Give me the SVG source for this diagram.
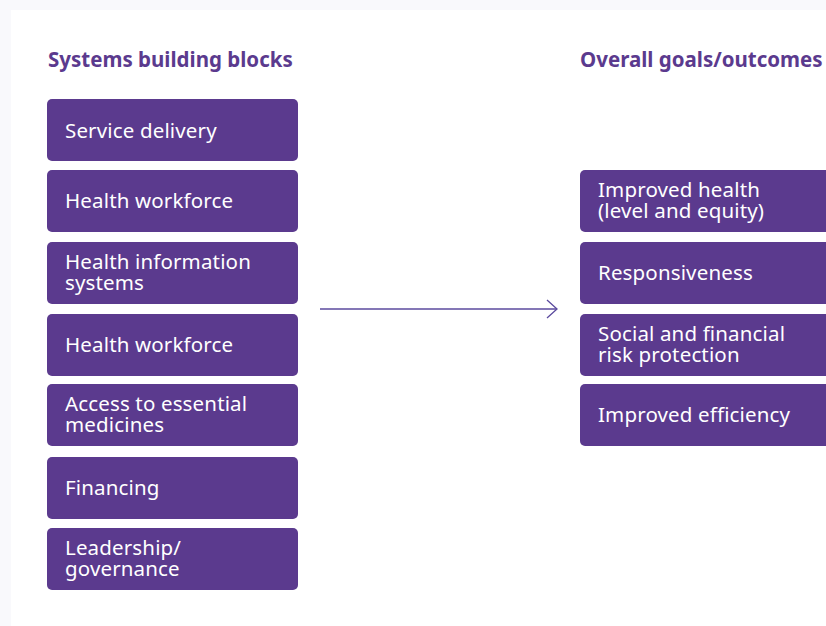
<svg xmlns="http://www.w3.org/2000/svg" width="826" height="626" viewBox="0 0 826 626">
<style>
.box{fill:#5b3a8e;}
.t{font-family:"Noto Sans","Lato",sans-serif;font-size:20.5px;letter-spacing:0.15px;fill:#ffffff;}
.h{font-family:"Noto Sans","Lato",sans-serif;font-size:20.5px;font-weight:bold;fill:#5b3a8e;}
.c{stroke:#5b4a9e;stroke-width:1.3;fill:none;}
</style>
<defs>
<marker id="arr" viewBox="0 0 12 20" refX="11" refY="10" markerWidth="12" markerHeight="20" markerUnits="userSpaceOnUse" orient="auto">
<path d="M1,1 L11,10 L1,19" fill="none" stroke="#5b4a9e" stroke-width="1.3"/>
</marker>
</defs>
<rect width="826" height="626" fill="#f9f9fc"/>
<rect x="11" y="10" width="815" height="616" fill="#ffffff"/>
<text class="h" x="48" y="67">Systems building blocks</text>
<text class="h" x="580" y="67">Overall goals/outcomes</text>
<g id="l1"><rect class="box" x="47" y="99" width="251" height="62" rx="5"/><text class="t" x="65" y="138">Service delivery</text></g>
<g id="l2"><rect class="box" x="47" y="170" width="251" height="62" rx="5"/><text class="t" x="65" y="208">Health workforce</text></g>
<g id="l3"><rect class="box" x="47" y="242" width="251" height="62" rx="5"/><text class="t" x="65" y="269">Health information</text><text class="t" x="65" y="290">systems</text></g>
<g id="l4"><rect class="box" x="47" y="314" width="251" height="62" rx="5"/><text class="t" x="65" y="352">Health workforce</text></g>
<g id="l5"><rect class="box" x="47" y="384" width="251" height="62" rx="5"/><text class="t" x="65" y="411">Access to essential</text><text class="t" x="65" y="432">medicines</text></g>
<g id="l6"><rect class="box" x="47" y="457" width="251" height="62" rx="5"/><text class="t" x="65" y="495">Financing</text></g>
<g id="l7"><rect class="box" x="47" y="528" width="251" height="62" rx="5"/><text class="t" x="65" y="555">Leadership/</text><text class="t" x="65" y="576">governance</text></g>
<g id="r1"><rect class="box" x="580" y="170" width="260" height="62" rx="5"/><text class="t" x="598" y="197">Improved health</text><text class="t" x="598" y="218">(level and equity)</text></g>
<g id="r2"><rect class="box" x="580" y="242" width="260" height="62" rx="5"/><text class="t" x="598" y="280">Responsiveness</text></g>
<g id="r3"><rect class="box" x="580" y="314" width="260" height="62" rx="5"/><text class="t" x="598" y="341">Social and financial</text><text class="t" x="598" y="362">risk protection</text></g>
<g id="r4"><rect class="box" x="580" y="384" width="260" height="62" rx="5"/><text class="t" x="598" y="422">Improved efficiency</text></g>
<g id="connectors"><line class="c" x1="320" y1="309" x2="557" y2="309" marker-end="url(#arr)"/></g>
</svg>
